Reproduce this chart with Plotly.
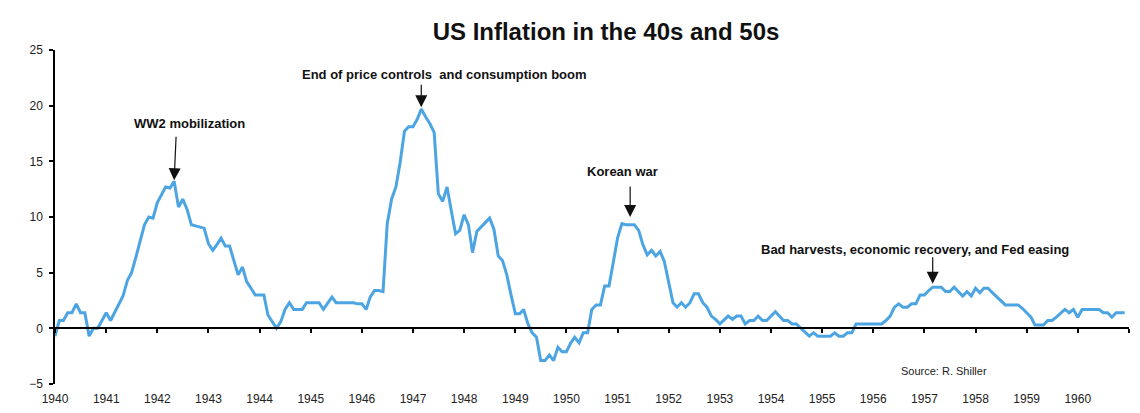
import plotly.graph_objects as go
import pandas as pd

# US CPI inflation, year-over-year %, monthly (source: R. Shiller)
v1940 = [-0.7, 0.7, 0.7, 1.4, 1.4, 2.2, 1.4, 1.4, -0.7, 0.0, 0.0, 0.7]
v1941 = [1.4, 0.7, 1.4, 2.1, 2.9, 4.3, 5.0, 6.4, 7.9, 9.3, 10.0, 9.9]
v1942 = [11.3, 12.1, 12.7, 12.6, 13.2, 10.9, 11.6, 10.7, 9.3, 9.2, 9.1, 9.0]
v1943 = [7.6, 7.0, 7.5, 8.1, 7.4, 7.4, 6.1, 4.8, 5.5, 4.2, 3.6, 3.0]
v1944 = [3.0, 3.0, 1.2, 0.6, 0.0, 0.6, 1.7, 2.3, 1.7, 1.7, 1.7, 2.3]
v1945 = [2.3, 2.3, 2.3, 1.7, 2.3, 2.8, 2.3, 2.3, 2.3, 2.3, 2.3, 2.2]
v1946 = [2.2, 1.7, 2.8, 3.4, 3.4, 3.3, 9.4, 11.6, 12.7, 14.9, 17.7, 18.1]
v1947 = [18.1, 18.8, 19.7, 19.0, 18.4, 17.6, 12.1, 11.4, 12.7, 10.6, 8.5, 8.8]
v1948 = [10.2, 9.3, 6.8, 8.7, 9.1, 9.5, 9.9, 8.9, 6.5, 6.1, 4.8, 3.0]
v1949 = [1.3, 1.3, 1.7, 0.4, -0.4, -0.8, -2.9, -2.9, -2.4, -2.9, -1.7, -2.1]
v1950 = [-2.1, -1.3, -0.8, -1.3, -0.4, -0.4, 1.7, 2.1, 2.1, 3.8, 3.8, 5.9]
v1951 = [8.1, 9.4, 9.3, 9.3, 9.3, 8.8, 7.5, 6.6, 7.0, 6.5, 6.9, 6.0]
v1952 = [4.3, 2.3, 1.9, 2.3, 1.9, 2.3, 3.1, 3.1, 2.3, 1.9, 1.1, 0.8]
v1953 = [0.4, 0.8, 1.1, 0.8, 1.1, 1.1, 0.4, 0.7, 0.7, 1.1, 0.7, 0.7]
v1954 = [1.1, 1.5, 1.1, 0.7, 0.7, 0.4, 0.4, 0.0, -0.4, -0.7, -0.4, -0.7]
v1955 = [-0.7, -0.7, -0.7, -0.4, -0.7, -0.7, -0.4, -0.4, 0.4, 0.4, 0.4, 0.4]
v1956 = [0.4, 0.4, 0.4, 0.7, 1.1, 1.9, 2.2, 1.9, 1.9, 2.2, 2.2, 3.0]
v1957 = [3.0, 3.4, 3.7, 3.7, 3.7, 3.3, 3.3, 3.7, 3.3, 2.9, 3.3, 2.9]
v1958 = [3.6, 3.2, 3.6, 3.6, 3.2, 2.8, 2.5, 2.1, 2.1, 2.1, 2.1, 1.8]
v1959 = [1.4, 1.0, 0.3, 0.3, 0.3, 0.7, 0.7, 1.0, 1.4, 1.7, 1.4, 1.7]
v1960 = [1.0, 1.7, 1.7, 1.7, 1.7, 1.7, 1.4, 1.4, 1.0, 1.4, 1.4, 1.4]

yearly = [v1940, v1941, v1942, v1943, v1944, v1945, v1946, v1947, v1948, v1949,
          v1950, v1951, v1952, v1953, v1954, v1955, v1956, v1957, v1958, v1959, v1960]
values = [v for yr in yearly for v in yr]
dates = pd.date_range("1940-01-01", periods=len(values), freq="MS")

tick_years = list(range(1940, 1961))
tick_label_text = [str(y) for y in tick_years]
axis_tick_dates = [pd.Timestamp(f"{y}-01-01") for y in range(1940, 1962)]
label_tick_dates = [pd.Timestamp(f"{y}-01-01") for y in tick_years]

title = "US Inflation in the 40s and 50s"
source_text = "Source: R. Shiller"

# annotations: (text, month index of the event, text x date, text y, arrow dx, arrow dy, tip offset)
events = [
    ("WW2 mobilization", 28, "1942-08-20", 18.4, 2, -45, 0.1),
    ("End of price controls\u00a0 and consumption boom", 86, "1947-08-13", 22.8, 0, -24, 0.15),
    ("Korean war", 135, "1951-02-06", 14.1, 0, -32, 0.7),
    ("Bad harvests, economic recovery, and Fed easing", 206, "1956-10-23", 7.1, 0, -28, 0.3),
]

FONT = "Liberation Sans, Arial, sans-serif"
x_range = [pd.Timestamp("1940-01-01"), pd.Timestamp("1961-01-01")]

fig = go.Figure()
fig.add_trace(go.Scatter(
    x=dates, y=values, mode="lines",
    line=dict(color="#4ca5e2", width=3),
    xaxis="x2", yaxis="y", showlegend=False, name="CPI inflation",
))
fig.add_trace(go.Scatter(
    x=dates, y=values, mode="lines", line=dict(width=0), opacity=0,
    xaxis="x", yaxis="y", showlegend=False, hoverinfo="skip",
))

annotations = []
for text, idx, tx, ty, ax, ay, dy in events:
    annotations.append(dict(
        x=tx, y=ty, xref="x", yref="y", text=f"<b>{text}</b>", showarrow=False,
        font=dict(family=FONT, size=13, color="#111"), xanchor="center", yanchor="middle",
    ))
    annotations.append(dict(
        x=dates[idx], y=values[idx] + dy, xref="x", yref="y", text="",
        showarrow=True, arrowhead=2, arrowsize=2, arrowwidth=1.2, arrowcolor="#111",
        ax=ax, ay=ay, standoff=0,
    ))
annotations.append(dict(
    x="1957-05-22", y=-3.87, xref="x", yref="y", text=source_text, showarrow=False,
    font=dict(family=FONT, size=11, color="#222"), xanchor="center", yanchor="middle",
))

fig.update_layout(
    width=1140, height=413,
    margin=dict(l=55, r=11, t=50, b=29, autoexpand=False),
    paper_bgcolor="white", plot_bgcolor="white",
    font=dict(family=FONT, size=12, color="#222"),
    title=dict(text=f"<b>{title}</b>", x=606 / 1140, xref="container", xanchor="center",
               y=1 - 32 / 413, yref="container", yanchor="middle",
               font=dict(family=FONT, size=24, color="#111")),
    xaxis=dict(
        range=x_range, tickmode="array", tickvals=label_tick_dates, ticktext=tick_label_text,
        showline=False, ticks="", showgrid=False, zeroline=False, automargin=False,
        ticklabelstandoff=6,
        tickfont=dict(family=FONT, size=12, color="#222"),
    ),
    xaxis2=dict(
        range=x_range, overlaying="x", anchor="free", position=1 / 6,
        tickmode="array", tickvals=axis_tick_dates, showticklabels=False,
        showline=True, linecolor="black", linewidth=1.5, automargin=False,
        ticks="outside", ticklen=4, tickwidth=1.5, tickcolor="black",
        showgrid=False, zeroline=False,
    ),
    yaxis=dict(
        range=[-5, 25], tickmode="array", tickvals=[-5, 0, 5, 10, 15, 20, 25],
        showline=True, linecolor="black", linewidth=1.5, automargin=False,
        ticks="outside", ticklen=4, tickwidth=1.5, tickcolor="black",
        showgrid=False, zeroline=False, ticklabelstandoff=4,
        tickfont=dict(family=FONT, size=12, color="#222"),
    ),
    annotations=annotations,
)

fig.write_html(
    "out.html",
    config={"displayModeBar": False},
    post_script="document.body.style.margin='0';document.body.style.overflow='hidden';",
)
